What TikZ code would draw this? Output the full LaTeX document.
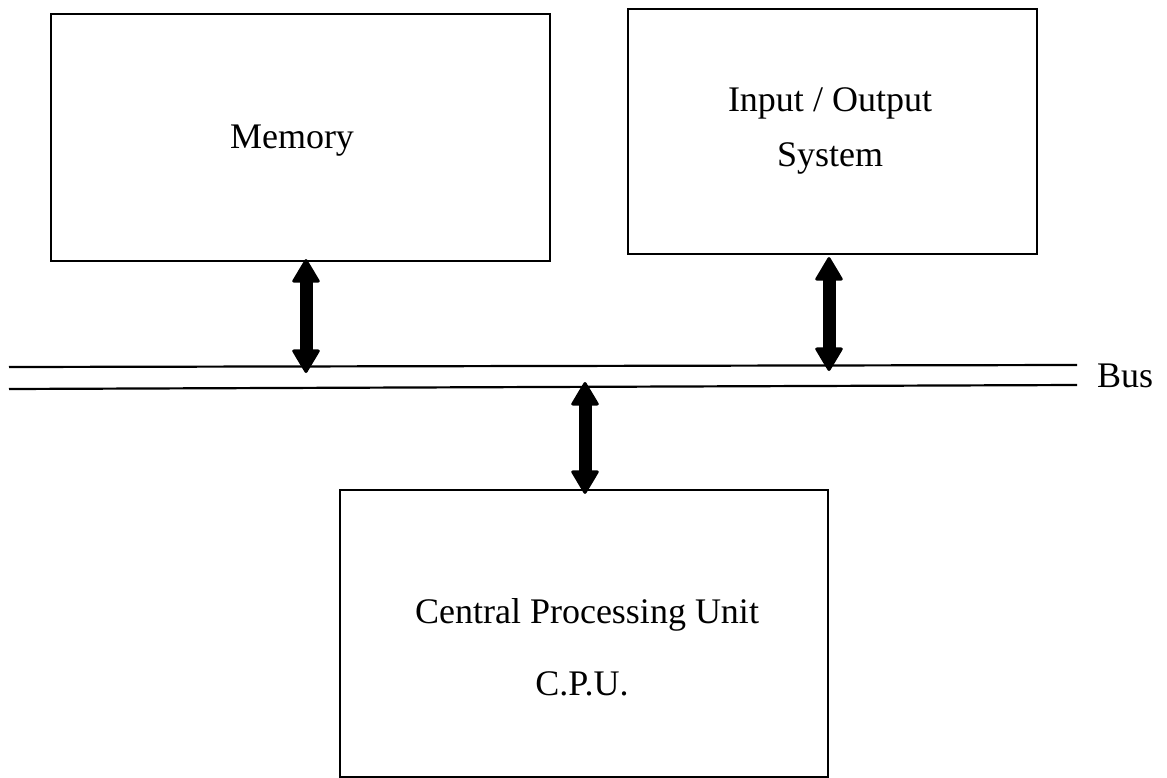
\documentclass[tikz,border=0pt]{standalone}
\usepackage{fontspec}
\setmainfont{Liberation Serif}
\usetikzlibrary{arrows.meta}

\begin{document}
\begin{tikzpicture}[x=1pt,y=-1pt,
  unitbox/.style={draw, line width=2.2pt, inner sep=0pt},
  lbl/.style={inner sep=0pt, anchor=base, font=\fontsize{36}{43}\selectfont},
  busline/.style={line width=2.2pt},
  dblarrow/.style={line width=13pt,
    {Triangle[width=29pt,length=25pt,round,line width=3pt]}-{Triangle[width=29pt,length=25pt,round,line width=3pt]}}
]
\useasboundingbox (0,0) rectangle (1167,778);

% the three units
\node[unitbox, minimum width=499pt, minimum height=247pt] (mem) at (300.5,137.5) {};
\node[unitbox, minimum width=409pt, minimum height=245pt] (io)  at (832.5,131.5) {};
\node[unitbox, minimum width=488pt, minimum height=287pt] (cpu) at (584,633.5) {};

% labels
\node[lbl] (memtxt) at (292,149) {Memory};
\node[lbl] (iotxt1) at (830,112) {Input / Output};
\node[lbl] (iotxt2) at (830,167) {System};
\node[lbl] (cputxt1) at (587,623) {Central Processing Unit};
\node[lbl] (cputxt2) at (582,695) {C.P.U.};

% the bus: two parallel lines
\coordinate (busTL) at (9,367);
\coordinate (busTR) at (1077,365);
\coordinate (busBL) at (9,389);
\coordinate (busBR) at (1077,385);
\draw[busline] (busTL) -- (busTR);
\draw[busline] (busBL) -- (busBR);
\node[lbl, anchor=base west] (bustxt) at (1097,387) {Bus};

% bus taps
\coordinate (memtap) at (306,373);
\coordinate (iotap)  at (829,371);
\coordinate (cputap) at (585,382);
\draw[dblarrow] ([yshift=3pt]mem.south -| memtap) -- (memtap);
\draw[dblarrow] ([yshift=-2pt]io.south -| iotap) -- (iotap);
\draw[dblarrow] (cputap) -- ([yshift=-5pt]cpu.north -| cputap);
\end{tikzpicture}
\end{document}
